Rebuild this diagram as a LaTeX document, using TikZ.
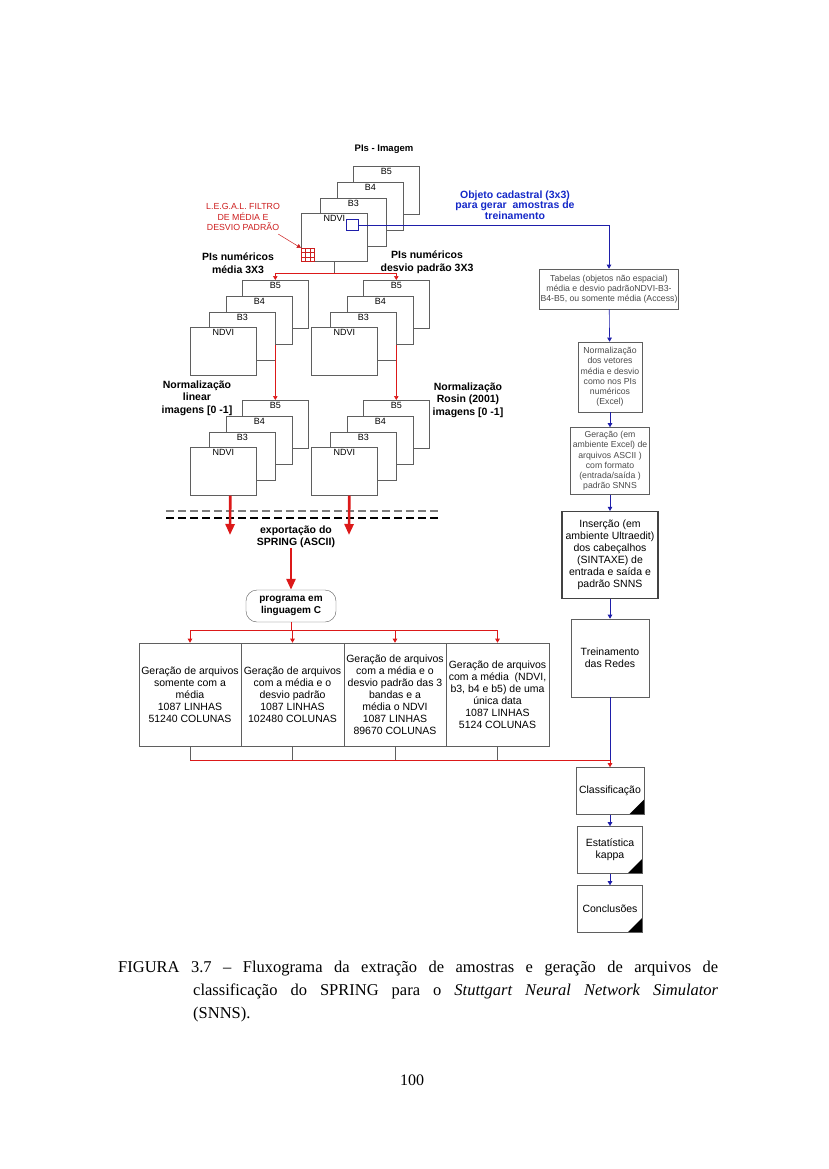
\documentclass[tikz,border=0pt]{standalone}
\usepackage{fontspec}
\setmainfont{Liberation Serif}
\setsansfont{Liberation Sans}
\usetikzlibrary{arrows.meta,positioning,calc}
\definecolor{lineblue}{RGB}{30,30,170}
\definecolor{textblue}{RGB}{20,40,200}
\definecolor{legalred}{RGB}{205,30,30}
\definecolor{flowred}{RGB}{220,25,25}
\definecolor{boxgrey}{RGB}{95,95,95}
\definecolor{textgrey}{RGB}{75,75,75}
\definecolor{dashgrey}{RGB}{125,125,125}
\newcommand{\fsbox}{\fontsize{10.5}{12}\selectfont}
\newcommand{\fssmall}{\fontsize{8.7}{10.2}\selectfont}
\newcommand{\fsband}{\fontsize{9}{10}\selectfont}
\newcommand{\fsbold}{\fontsize{10.5}{12.5}\selectfont\bfseries}
\newcommand{\fscap}{\fontsize{16.5}{23}\selectfont}

% stack of bands: name prefix, x and y of the NDVI corner
\newcommand{\pistack}[3]{%
  \node[pibox] (#1b5) at (#2+52,#3-47) {};
  \node[pilbl, below=1pt of #1b5.north] {B5};
  \node[pibox] (#1b4) at (#2+36,#3-31) {};
  \node[pilbl, below=1pt of #1b4.north] {B4};
  \node[pibox] (#1b3) at (#2+19,#3-15) {};
  \node[pilbl, below=1pt of #1b3.north] {B3};
  \node[pibox] (#1ndvi) at (#2,#3) {};
  \node[pilbl, below=1pt of #1ndvi.north] {NDVI};
}

\begin{document}
\begin{tikzpicture}[x=1pt, y=-1pt, font=\sffamily,
    >={Triangle[length=4pt,width=4.5pt]},
    pibox/.style={draw=boxgrey, fill=white, line width=0.6pt,
      minimum width=66pt, minimum height=48pt, inner sep=0pt,
      anchor=north west},
    pilbl/.style={font=\sffamily\fsband, inner sep=1pt},
    flowbox/.style={draw=boxgrey, fill=white, line width=0.6pt,
      align=center, inner sep=1pt},
    graytext/.style={text=textgrey, font=\sffamily\fssmall},
    genbox/.style={flowbox, font=\sffamily\fsbox, minimum height=103pt},
    endbox/.style={flowbox, font=\sffamily\fsbox,
      path picture={\fill[black] (path picture bounding box.south east)
        -- ++(-15pt,0pt) -- ++(15pt,15pt) -- cycle;}},
    steplbl/.style={font=\sffamily\fsbold, align=center, inner sep=0pt},
    bluelink/.style={draw=lineblue, line width=0.6pt},
    redlink/.style={draw=flowred, line width=0.6pt},
    bigred/.style={draw=flowred, line width=2.6pt,
      -{Triangle[length=11pt,width=9pt]}}]

  % page
  \fill[white] (0,0) rectangle (828,1169);
  \useasboundingbox (0,0) rectangle (828,1169);

  % PIs - Imagem
  \node[steplbl, font=\sffamily\fontsize{9.5}{11}\selectfont\bfseries] (title)
    at (384,149) {PIs - Imagem};
  \pistack{t}{301}{213}

  % L.E.G.A.L. filter window
  \node[draw=legalred, line width=0.8pt, minimum size=13pt, inner sep=0pt,
    anchor=north west] (grid) at (301,248) {};
  \foreach \t in {1,2}{
    \draw[legalred, line width=0.5pt]
      ($(grid.north west)!\t/3!(grid.north east)$) --
      ($(grid.south west)!\t/3!(grid.south east)$);
    \draw[legalred, line width=0.5pt]
      ($(grid.north west)!\t/3!(grid.south west)$) --
      ($(grid.north east)!\t/3!(grid.south east)$);
  }
  \node[text=legalred, font=\sffamily\fontsize{8.8}{10.5}\selectfont,
    align=center] (legal) at (243,217)
    {L.E.G.A.L. FILTRO\\DE MÉDIA E\\DESVIO PADRÃO};
  \draw[legalred, line width=0.5pt, ->] ([xshift=-5pt]legal.south east)
    -- (grid.north west);

  % Objeto cadastral
  \node[draw=lineblue, line width=0.8pt, minimum width=12pt,
    minimum height=11pt, inner sep=0pt, anchor=north west] (obj)
    at (346,219) {};
  \node[steplbl, text=textblue, font=\sffamily\fontsize{10.5}{10.5}\selectfont\bfseries]
    (objlbl) at (515,205)
    {Objeto cadastral (3x3)\\para gerar \ amostras de\\treinamento};

  % right column
  \node[flowbox, graytext, minimum width=138pt, minimum height=40pt] (tab)
    at (609,289)
    {Tabelas (objetos não espacial)\\média e desvio padrãoNDVI-B3-\\B4-B5, ou somente média (Access)};
  \node[flowbox, graytext, minimum width=64pt, minimum height=70pt] (norm)
    at (610,377)
    {Normalização\\dos vetores\\média e desvio\\como nos PIs\\numéricos\\(Excel)};
  \node[flowbox, graytext, minimum width=79pt, minimum height=67pt] (gera)
    at (610,461)
    {Geração (em\\ambiente Excel) de\\arquivos ASCII )\\com formato\\(entrada/saída )\\padrão SNNS};
  \node[flowbox, draw=boxgrey!70!black, line width=1.2pt, font=\sffamily\fsbox,
    minimum width=96pt, minimum height=87pt] (ins) at (610,555)
    {Inserção (em\\ambiente Ultraedit)\\dos cabeçalhos\\(SINTAXE) de\\entrada e saída e\\padrão SNNS};
  \node[flowbox, font=\sffamily\fsbox, minimum width=78pt,
    minimum height=78pt] (trei) at (610,658) {Treinamento\\das Redes};
  \node[endbox, minimum width=68pt, minimum height=47pt] (class)
    at (610,791) {Classificação};
  \node[endbox, minimum width=65pt, minimum height=47pt] (est)
    at (610,850) {Estatística\\kappa};
  \node[endbox, minimum width=65pt, minimum height=47pt] (conc)
    at (610,909) {Conclusões};

  \draw[bluelink, ->] (obj.east) -| (tab.north);
  \foreach \a/\b in {tab/norm, norm/gera, gera/ins, ins/trei, class/est, est/conc}{
    \draw[bluelink, ->] (\a) -- (\b);
  }

  % PIs numéricos
  \pistack{m}{190}{327}
  \pistack{d}{311}{327}
  \coordinate (split) at ($(tndvi.south)+(0,12)$);
  \draw[boxgrey, line width=0.6pt] (tndvi.south) -- (split);
  \draw[redlink, ->] (split) -| (mb5.north);
  \draw[redlink, ->] (split) -| (db5.north);
  \node[steplbl] (pimed) at (238,263) {PIs numéricos\\média 3X3};
  \node[steplbl] (pidesv) at (427,262) {PIs numéricos\\desvio padrão 3X3};

  % normalised images
  \pistack{ml}{190}{447}
  \pistack{dl}{311}{447}
  \draw[redlink, ->] (mb4.south -| mlb5.north) -- (mlb5.north);
  \draw[redlink, ->] (db4.south -| dlb5.north) -- (dlb5.north);
  \node[steplbl] (normlin) at (197,398) {Normalização\\linear\\imagens [0 -1]};
  \node[steplbl] (normros) at (468,400) {Normalização\\Rosin (2001)\\imagens [0 -1]};

  % export
  \draw[dashgrey, line width=1.5pt, dash pattern=on 8pt off 4pt]
    (166,511) -- (438,511);
  \draw[black, line width=1.3pt, dash pattern=on 8pt off 4pt]
    (166,518) -- (438,518);
  \coordinate (expL) at (230,535);
  \coordinate (expR) at (349,535);
  \draw[bigred] ([xshift=7pt]mlndvi.south) -- (expL);
  \draw[bigred] ([xshift=5pt]dlndvi.south) -- (expR);
  \node[steplbl] (expo) at (296,537) {exportação do\\SPRING (ASCII)};
  \node[draw=boxgrey, fill=white, rounded corners=11pt, minimum width=90pt,
    minimum height=32pt, inner sep=1pt, align=center,
    font=\sffamily\fontsize{10}{12}\selectfont\bfseries] (prog)
    at (291,606) {programa em\\linguagem C};
  \draw[bigred] (expo.south -| prog.north) -- (prog.north);

  % generated files
  \node[genbox, minimum width=102pt] (g1) at (190,694.5)
    {Geração de arquivos\\somente com a\\média\\1087 LINHAS\\51240 COLUNAS};
  \node[genbox, minimum width=103pt] (g2) at (292.5,694.5)
    {Geração de arquivos\\com a média e o\\desvio padrão\\1087 LINHAS\\102480 COLUNAS};
  \node[genbox, minimum width=102pt] (g3) at (395,694.5)
    {Geração de arquivos\\com a média e o\\desvio padrão das 3\\bandas e a\\média o NDVI\\1087 LINHAS\\89670 COLUNAS};
  \node[genbox, minimum width=103pt] (g4) at (497.5,694.5)
    {Geração de arquivos\\com a média \ (NDVI,\\b3, b4 e b5) de uma\\única data\\1087 LINHAS\\5124 COLUNAS};
  \coordinate (fork) at (291,630);
  \draw[redlink] (prog.south) -- (fork);
  \foreach \g in {g1,g2,g3,g4}{
    \draw[redlink, ->] (fork) -| (\g.north);
  }

  % to classification
  \coordinate (bus) at (610,760);
  \foreach \g in {g1,g2,g3,g4}{
    \draw[boxgrey, line width=0.6pt] (\g.south) -- (\g.south |- bus);
  }
  \draw[bluelink] (trei.south) -- (bus);
  \draw[redlink] (g1.south |- bus) -- (bus);
  \draw[redlink, ->] (bus) -- (class.north);

  % caption and page number
  \node[anchor=north west, text width=600pt, align=justify, inner sep=0pt,
    font=\rmfamily\fscap] (caption) at (118,961)
    {\hangindent=75pt\hangafter=1 FIGURA 3.7 -- Fluxograma da extração de
    amostras e geração de arquivos de\linebreak classificação do SPRING para
    o \textit{Stuttgart Neural Network Simulator}\linebreak (SNNS).\par};
  \node[font=\rmfamily\fontsize{16}{18}\selectfont] (pageno) at (412,1080) {100};

\end{tikzpicture}
\end{document}
